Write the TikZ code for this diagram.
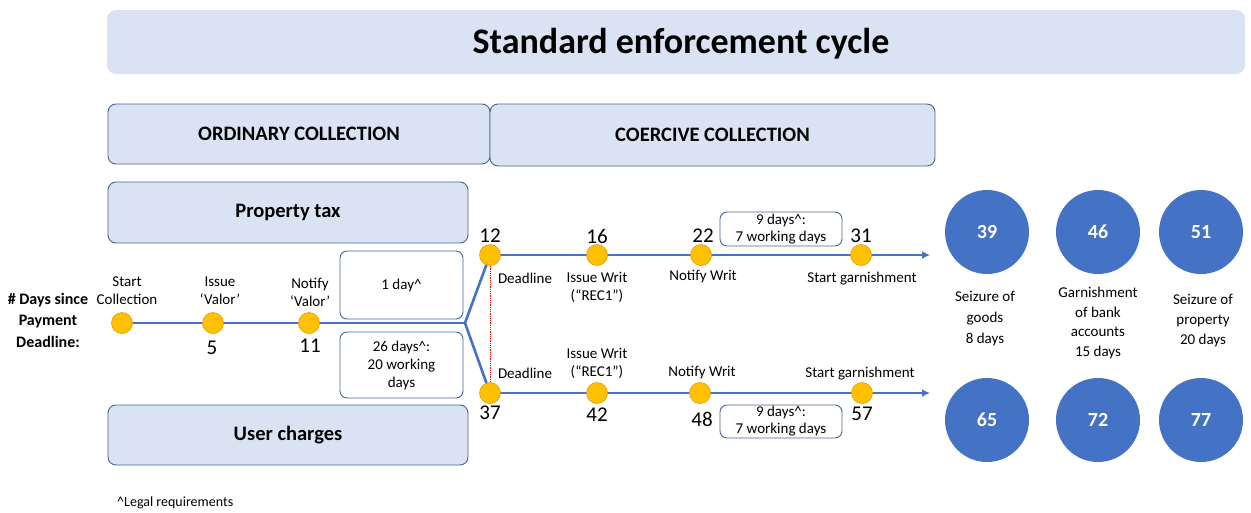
\documentclass[tikz,border=0pt]{standalone}
\usepackage{fontspec}
\setmainfont{Carlito}
\usetikzlibrary{arrows.meta,backgrounds}
\definecolor{lightfill}{HTML}{DAE3F3}
\definecolor{boxline}{HTML}{4A6496}
\definecolor{lineblue}{HTML}{4472C4}
\definecolor{dotfill}{HTML}{FFC000}
\definecolor{dotline}{HTML}{E0A000}
\definecolor{circblue}{HTML}{4472C4}
\tikzset{
  hdrbox/.style={draw=boxline, line width=0.9pt, fill=lightfill, rounded corners=8pt, font=\bfseries\fontsize{20.5}{24}\selectfont, inner sep=0pt},
  notebox/.style={draw=boxline, line width=0.9pt, fill=white, rounded corners=7pt, font=\fontsize{15}{18}\selectfont, align=center, inner sep=0pt},
  dot/.style={circle, fill=dotfill, draw=dotline, line width=0.6pt, minimum size=21pt, inner sep=0pt},
  lbl/.style={font=\fontsize{15}{18}\selectfont, align=center, inner sep=0pt},
  num/.style={font=\fontsize{21}{24}\selectfont, inner sep=0pt},
  bigc/.style={circle, fill=circblue, minimum size=84pt, inner sep=0pt, text=white, font=\bfseries\fontsize{20}{22}\selectfont},
  tl/.style={draw=lineblue, line width=2.6pt},
  tlarrow/.style={tl, -{Latex[length=8pt,width=8pt]}},
}
\begin{document}
\begin{tikzpicture}[x=1pt,y=-1pt]
\useasboundingbox (0,0) rectangle (1251,512);
% title
\node[fill=lightfill, rounded corners=9pt, minimum width=1138pt, minimum height=64pt, inner sep=0pt] (title) at (676,42) {};
\node[inner sep=0pt, font=\bfseries\fontsize{36}{40}\selectfont] (titletxt) at (681,44) {Standard enforcement cycle};
% headers
\node[hdrbox, minimum width=382pt, minimum height=60pt] (ord) at (299,134) {ORDINARY COLLECTION};
\node[hdrbox, minimum width=445pt, minimum height=62pt] (coe) at (712.5,135) {COERCIVE COLLECTION};
\node[hdrbox, minimum width=360pt, minimum height=61pt] (ptax) at (288,212.5) {Property tax};
\node[hdrbox, minimum width=360pt, minimum height=60pt] (uch) at (288,435) {User charges};
% left axis label
\node[lbl, font=\bfseries\fontsize{16}{21.5}\selectfont] (dayslbl) at (48,320) {\# Days since\\Payment\\Deadline:};
% note boxes
\node[notebox, minimum width=123pt, minimum height=68pt] (oneday) at (401.5,285) {1 day\^{}};
\node[notebox, minimum width=123pt, minimum height=66pt] (twsix) at (401.5,365) {26 days\^{}:\\20 working\\days};
\node[notebox, minimum width=122pt, minimum height=34pt, font=\fontsize{15}{17}\selectfont] (nineA) at (781,229) {9 days\^{}:\\7 working days};
\node[notebox, minimum width=122pt, minimum height=33pt, font=\fontsize{15}{17}\selectfont] (nineB) at (781,421.5) {9 days\^{}:\\7 working days};
% dots
\node[dot] (d0) at (122,323) {};
\node[dot] (d5) at (213,323) {};
\node[dot] (d11) at (309,323) {};
\coordinate (fork) at (465,323);
\node[dot] (t12) at (490,255) {};
\node[dot] (t16) at (597,255) {};
\node[dot] (t22) at (701,255) {};
\node[dot] (t31) at (861,255) {};
\coordinate (tend) at (930,255);
\node[dot] (b37) at (490,393) {};
\node[dot] (b42) at (597,393) {};
\node[dot] (b48) at (700,393) {};
\node[dot] (b57) at (862,393) {};
\coordinate (bend) at (930,393);
% lines
\begin{scope}[on background layer]
\draw[tl] (d0.center) -- (d5.center) -- (d11.center) -- (fork);
\draw[tl] (fork) -- (t12.center);
\draw[tl] (fork) -- (b37.center);
\draw[tlarrow] (t12.center) -- (t16.center) -- (t22.center) -- (t31.center) -- (tend);
\draw[tlarrow] (b37.center) -- (b42.center) -- (b48.center) -- (b57.center) -- (bend);
\end{scope}
\draw[red, densely dotted, line width=0.8pt] (t12.south) -- (b37.north);
% left labels
\node[lbl] (l0) at (127,291) {Start\\Collection};
\node[lbl] (l5) at (220,291) {Issue\\`Valor'};
\node[lbl] (l11) at (310,292) {Notify\\`Valor'};
\node[num] (n5) at (212,348) {5};
\node[num] (n11) at (310,346) {11};
% top labels
\node[num] (n12) at (490,236) {12};
\node[num] (n16) at (597,236) {16};
\node[num] (n22) at (703,236) {22};
\node[num] (n31) at (861,236) {31};
\node[lbl] (lt12) at (525,278) {Deadline};
\node[lbl] (lt16) at (597,287) {Issue Writ\\(``REC1'')};
\node[lbl] (lt22) at (703,277) {Notify Writ};
\node[lbl] (lt31) at (862,279) {Start garnishment};
% bottom labels
\node[lbl] (lb37) at (525,373) {Deadline};
\node[lbl] (lb42) at (597,363) {Issue Writ\\(``REC1'')};
\node[lbl] (lb48) at (702,373) {Notify Writ};
\node[lbl] (lb57) at (860,374) {Start garnishment};
\node[num] (n37) at (490,413) {37};
\node[num] (n42) at (597,415) {42};
\node[num] (n48) at (702,419) {48};
\node[num] (n57) at (862,414) {57};
% circles
\node[bigc] (c39) at (987,232) {39};
\node[bigc] (c46) at (1098,232) {46};
\node[bigc] (c51) at (1201,232) {51};
\node[bigc] (c65) at (987,420) {65};
\node[bigc] (c72) at (1098,420) {72};
\node[bigc] (c77) at (1201,420) {77};
\node[lbl, font=\fontsize{15}{21}\selectfont] (s1) at (985,319) {Seizure of\\goods\\8 days};
\node[lbl, font=\fontsize{15}{19.5}\selectfont] (s2) at (1098,323) {Garnishment\\of bank\\accounts\\15 days};
\node[lbl, font=\fontsize{15}{20}\selectfont] (s3) at (1203,321) {Seizure of\\property\\20 days};
% footnote
\node[lbl, font=\fontsize{14}{16}\selectfont, anchor=west] (foot) at (117,503) {\^{}Legal requirements};
\end{tikzpicture}
\end{document}
